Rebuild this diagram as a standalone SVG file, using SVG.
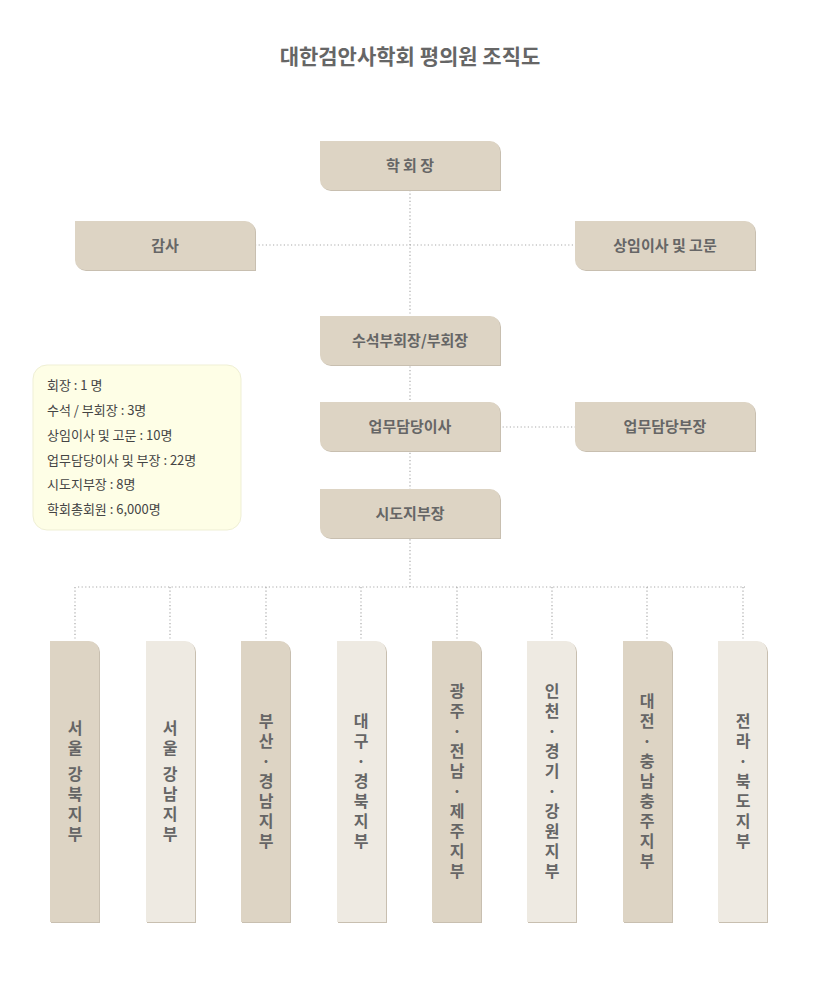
<svg xmlns="http://www.w3.org/2000/svg" width="820" height="1000" viewBox="0 0 820 1000">
<style>
text{font-family:"Noto Sans CJK KR","Noto Sans",sans-serif;fill:#666}
.t{font-size:15px;font-weight:bold;text-anchor:middle}
.v{font-size:16px;font-weight:bold;text-anchor:middle}
.i{font-size:13px;fill:#444}
.d{fill:#ddd4c4}.l{fill:#eeeae2}
.s{fill:#c8bfb0}
.c{stroke:#aaa;stroke-width:1.2;stroke-dasharray:1.2 2.4;fill:none}
</style>
<defs>
<path id="mb" d="M0 0H170a10 10 0 0 1 10 10V49H10a10 10 0 0 1-10-10Z"/>
<path id="bb" d="M0 0H39a10 10 0 0 1 10 10V281H0Z"/>
</defs>
<rect width="820" height="1000" fill="#fff"/>
<text x="410" y="64" text-anchor="middle" font-size="21" font-weight="bold">대한검안사학회 평의원 조직도</text>
<g id="connectors" class="c">
<path d="M410 190V587"/>
<path d="M255 245H575"/>
<path d="M499 427H575"/>
<path d="M78 587H745"/>
<path d="M75 587V641M170 587V641M266 587V641M361 587V641M457 587V641M552 587V641M647 587V641M743 587V641"/>
</g>
<g id="n1"><use href="#mb" x="321" y="142" class="s"/><use href="#mb" x="320" y="141" class="d"/><text class="t" x="410" y="171">학 회 장</text></g>
<g id="n2"><use href="#mb" x="76" y="222" class="s"/><use href="#mb" x="75" y="221" class="d"/><text class="t" x="165" y="251">감사</text></g>
<g id="n3"><use href="#mb" x="576" y="222" class="s"/><use href="#mb" x="575" y="221" class="d"/><text class="t" x="665" y="251">상임이사 및 고문</text></g>
<g id="n4"><use href="#mb" x="321" y="317" class="s"/><use href="#mb" x="320" y="316" class="d"/><text class="t" x="410" y="346">수석부회장/부회장</text></g>
<g id="n5"><use href="#mb" x="321" y="403" class="s"/><use href="#mb" x="320" y="402" class="d"/><text class="t" x="410" y="432">업무담당이사</text></g>
<g id="n6"><use href="#mb" x="576" y="403" class="s"/><use href="#mb" x="575" y="402" class="d"/><text class="t" x="665" y="432">업무담당부장</text></g>
<g id="n7"><use href="#mb" x="321" y="490" class="s"/><use href="#mb" x="320" y="489" class="d"/><text class="t" x="410" y="519">시도지부장</text></g>
<g id="info">
<rect x="33" y="365" width="208" height="165" rx="14" fill="#fefee6" stroke="#efefd5"/>
<text class="i" x="47" y="390">회장 : 1 명</text>
<text class="i" x="47" y="415">수석 / 부회장 : 3명</text>
<text class="i" x="47" y="440">상임이사 및 고문 : 10명</text>
<text class="i" x="47" y="465">업무담당이사 및 부장 : 22명</text>
<text class="i" x="47" y="489">시도지부장 : 8명</text>
<text class="i" x="47" y="514">학회총회원 : 6,000명</text>
</g>
<g id="b1"><use href="#bb" x="51" y="642" class="s"/><use href="#bb" x="50" y="641" class="d"/><text class="v"><tspan x="75" y="734">서</tspan><tspan x="75" y="754">울</tspan><tspan x="75" y="780">강</tspan><tspan x="75" y="800">북</tspan><tspan x="75" y="820">지</tspan><tspan x="75" y="840">부</tspan></text></g>
<g id="b2"><use href="#bb" x="147" y="642" class="s"/><use href="#bb" x="146" y="641" class="l"/><text class="v"><tspan x="170" y="734">서</tspan><tspan x="170" y="754">울</tspan><tspan x="170" y="780">강</tspan><tspan x="170" y="800">남</tspan><tspan x="170" y="820">지</tspan><tspan x="170" y="840">부</tspan></text></g>
<g id="b3"><use href="#bb" x="242" y="642" class="s"/><use href="#bb" x="241" y="641" class="d"/><text class="v"><tspan x="266" y="727">부</tspan><tspan x="266" y="747">산</tspan><tspan x="266" y="767">·</tspan><tspan x="266" y="787">경</tspan><tspan x="266" y="807">남</tspan><tspan x="266" y="827">지</tspan><tspan x="266" y="847">부</tspan></text></g>
<g id="b4"><use href="#bb" x="338" y="642" class="s"/><use href="#bb" x="337" y="641" class="l"/><text class="v"><tspan x="361" y="727">대</tspan><tspan x="361" y="747">구</tspan><tspan x="361" y="767">·</tspan><tspan x="361" y="787">경</tspan><tspan x="361" y="807">북</tspan><tspan x="361" y="827">지</tspan><tspan x="361" y="847">부</tspan></text></g>
<g id="b5"><use href="#bb" x="433" y="642" class="s"/><use href="#bb" x="432" y="641" class="d"/><text class="v"><tspan x="457" y="697">광</tspan><tspan x="457" y="717">주</tspan><tspan x="457" y="737">·</tspan><tspan x="457" y="757">전</tspan><tspan x="457" y="777">남</tspan><tspan x="457" y="797">·</tspan><tspan x="457" y="817">제</tspan><tspan x="457" y="837">주</tspan><tspan x="457" y="857">지</tspan><tspan x="457" y="877">부</tspan></text></g>
<g id="b6"><use href="#bb" x="528" y="642" class="s"/><use href="#bb" x="527" y="641" class="l"/><text class="v"><tspan x="552" y="697">인</tspan><tspan x="552" y="717">천</tspan><tspan x="552" y="737">·</tspan><tspan x="552" y="757">경</tspan><tspan x="552" y="777">기</tspan><tspan x="552" y="797">·</tspan><tspan x="552" y="817">강</tspan><tspan x="552" y="837">원</tspan><tspan x="552" y="857">지</tspan><tspan x="552" y="877">부</tspan></text></g>
<g id="b7"><use href="#bb" x="624" y="642" class="s"/><use href="#bb" x="623" y="641" class="d"/><text class="v"><tspan x="647" y="707">대</tspan><tspan x="647" y="727">전</tspan><tspan x="647" y="747">·</tspan><tspan x="647" y="767">충</tspan><tspan x="647" y="787">남</tspan><tspan x="647" y="807">충</tspan><tspan x="647" y="827">주</tspan><tspan x="647" y="847">지</tspan><tspan x="647" y="867">부</tspan></text></g>
<g id="b8"><use href="#bb" x="719" y="642" class="s"/><use href="#bb" x="718" y="641" class="l"/><text class="v"><tspan x="743" y="727">전</tspan><tspan x="743" y="747">라</tspan><tspan x="743" y="767">·</tspan><tspan x="743" y="787">북</tspan><tspan x="743" y="807">도</tspan><tspan x="743" y="827">지</tspan><tspan x="743" y="847">부</tspan></text></g>
</svg>
